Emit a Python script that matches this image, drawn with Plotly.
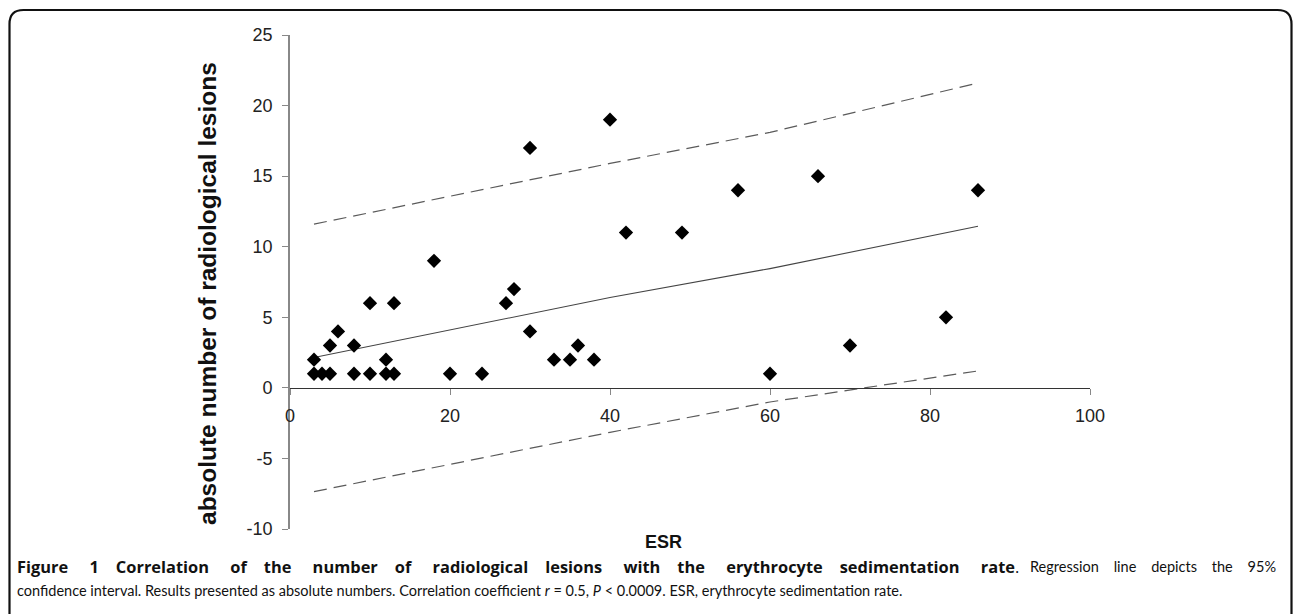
import plotly.graph_objects as go

# ---- data ----
esr = [3, 3, 4, 5, 5, 6, 8, 8, 10, 10, 12, 12, 13, 13, 18, 20, 24, 27, 28, 30,
       30, 33, 35, 36, 38, 40, 42, 49, 56, 60, 66, 70, 82, 86]
lesions = [2, 1, 1, 1, 3, 4, 3, 1, 1, 6, 2, 1, 1, 6, 9, 1, 1, 6, 7, 17,
           4, 2, 2, 3, 2, 19, 11, 11, 14, 1, 15, 3, 5, 14]

line_x = [3, 40, 60, 86]
regression_y = [2.15, 6.4, 8.45, 11.45]
upper_ci = [11.6, 15.9, 18.1, 21.6]
lower_ci = [-7.35, -3.15, -1.0, 1.2]

y_ticks = [-10, -5, 0, 5, 10, 15, 20, 25]
y_tick_labels = ["-10", "-5", "0", "5", "10", "15", "20", "25"]
x_ticks = [0, 20, 40, 60, 80, 100]

y_title = "absolute number of radiological lesions"
x_title = "ESR"
caption_bold_words = ["Figure", "1", "Correlation", "of", "the", "number", "of", "radiological",
                      "lesions", "with", "the", "erythrocyte", "sedimentation", "rate"]
caption_rest_words = ["Regression", "line", "depicts", "the", "95%"]
caption_line2 = ("confidence interval. Results presented as absolute numbers. Correlation coefficient "
                 "<i>r</i> = 0.5, <i>P</i> &lt; 0.0009. ESR, erythrocyte sedimentation rate.")

# ---- layout geometry (pixels) ----
W, H = 1293, 614
L, R, T, B = 290, 203, 35, 85
PW, PH = W - L - R, H - T - B


def px(x, y):
    return (x - L) / PW, (H - B - y) / PH


fig = go.Figure()

fig.add_trace(go.Scatter(x=line_x, y=upper_ci, mode="lines",
                         line=dict(color="#5a5a5a", width=1.2, dash="13px,7px"),
                         hoverinfo="skip", showlegend=False))
fig.add_trace(go.Scatter(x=line_x, y=lower_ci, mode="lines",
                         line=dict(color="#5a5a5a", width=1.2, dash="13px,7px"),
                         hoverinfo="skip", showlegend=False))
fig.add_trace(go.Scatter(x=line_x, y=regression_y, mode="lines",
                         line=dict(color="#444444", width=1.1),
                         hoverinfo="skip", showlegend=False))
fig.add_trace(go.Scatter(x=esr, y=lesions, mode="markers",
                         marker=dict(symbol="diamond", size=11, color="black"),
                         showlegend=False))

axis_font = dict(family="Liberation Sans, Arial, sans-serif", size=18, color="#222222")

fig.update_layout(
    width=W, height=H,
    margin=dict(l=L, r=R, t=T, b=B, pad=0),
    paper_bgcolor="white", plot_bgcolor="white",
    xaxis=dict(range=[0, 100], tickvals=x_ticks, showgrid=False, zeroline=False,
               showline=True, linecolor="#333333", linewidth=1.2,
               ticks="outside", ticklen=6, tickcolor="#888888", tickwidth=1.2,
               tickfont=axis_font, anchor="free", position=10 / 35,
               ticklabelstandoff=5),
    yaxis=dict(range=[-10, 25], tickvals=y_ticks, ticktext=y_tick_labels,
               showgrid=False, zeroline=False,
               showline=True, linecolor="#888888", linewidth=1.6,
               ticks="outside", ticklen=6, tickcolor="#888888", tickwidth=1.2,
               tickfont=axis_font, ticklabelstandoff=6),
)

# y axis title
tx, ty = px(207, 294)
fig.add_annotation(x=tx, y=ty, xref="paper", yref="paper", showarrow=False,
                   text="<b>" + y_title + "</b>", textangle=-90,
                   xanchor="center", yanchor="middle",
                   font=dict(family="Liberation Sans, Arial, sans-serif", size=24.5, color="#111111"))

# x axis title
ex, ey = px(663, 542)
fig.add_annotation(x=ex, y=ey, xref="paper", yref="paper", showarrow=False,
                   text="<b>" + x_title + "</b>", xanchor="center", yanchor="middle",
                   font=dict(family="Liberation Sans, Arial, sans-serif", size=18, color="#111111"))

# caption, first line spread out to mimic justified text
bold_font = dict(family="Open Sans, sans-serif", size=16.4, color="#111111")
cap_font = dict(family="Lato, sans-serif", size=14.5, color="#111111")
bold_text = caption_bold_words[0]
for i, w in enumerate(caption_bold_words[1:]):
    bold_text += " " + "&nbsp;" * (4 if i % 2 == 0 else 3) + w
gap_reg = " " + "&nbsp;" * 3
b1x, b1y = px(15, 566)
fig.add_annotation(x=b1x, y=b1y, xref="paper", yref="paper", showarrow=False,
                   text="<b>" + bold_text + "</b>.",
                   xanchor="left", yanchor="middle", align="left", font=bold_font)
r1x, r1y = px(1278, 566)
fig.add_annotation(x=r1x, y=r1y, xref="paper", yref="paper", showarrow=False,
                   text=gap_reg.join(caption_rest_words),
                   xanchor="right", yanchor="middle", align="right", font=cap_font)
c2x, c2y = px(15, 590)
fig.add_annotation(x=c2x, y=c2y, xref="paper", yref="paper", showarrow=False,
                   text=caption_line2, xanchor="left", yanchor="middle", align="left",
                   font=cap_font)

# rounded border around the figure
x0, y0, x1, y1, rr = 9.5, 10, 1291.5, 640, 14
a = px(x0, y1); b = px(x0, y0 + rr); c = px(x0, y0); d = px(x0 + rr, y0)
e = px(x1 - rr, y0); f = px(x1, y0); g = px(x1, y0 + rr); h = px(x1, y1)
path = (f"M {a[0]},{a[1]} L {b[0]},{b[1]} Q {c[0]},{c[1]} {d[0]},{d[1]} "
        f"L {e[0]},{e[1]} Q {f[0]},{f[1]} {g[0]},{g[1]} L {h[0]},{h[1]}")
fig.add_shape(type="path", path=path, xref="paper", yref="paper",
              line=dict(color="#111111", width=2.2), layer="above")

fig.write_html("out.html", config={"displayModeBar": False},
               post_script="document.body.style.margin='0';")
